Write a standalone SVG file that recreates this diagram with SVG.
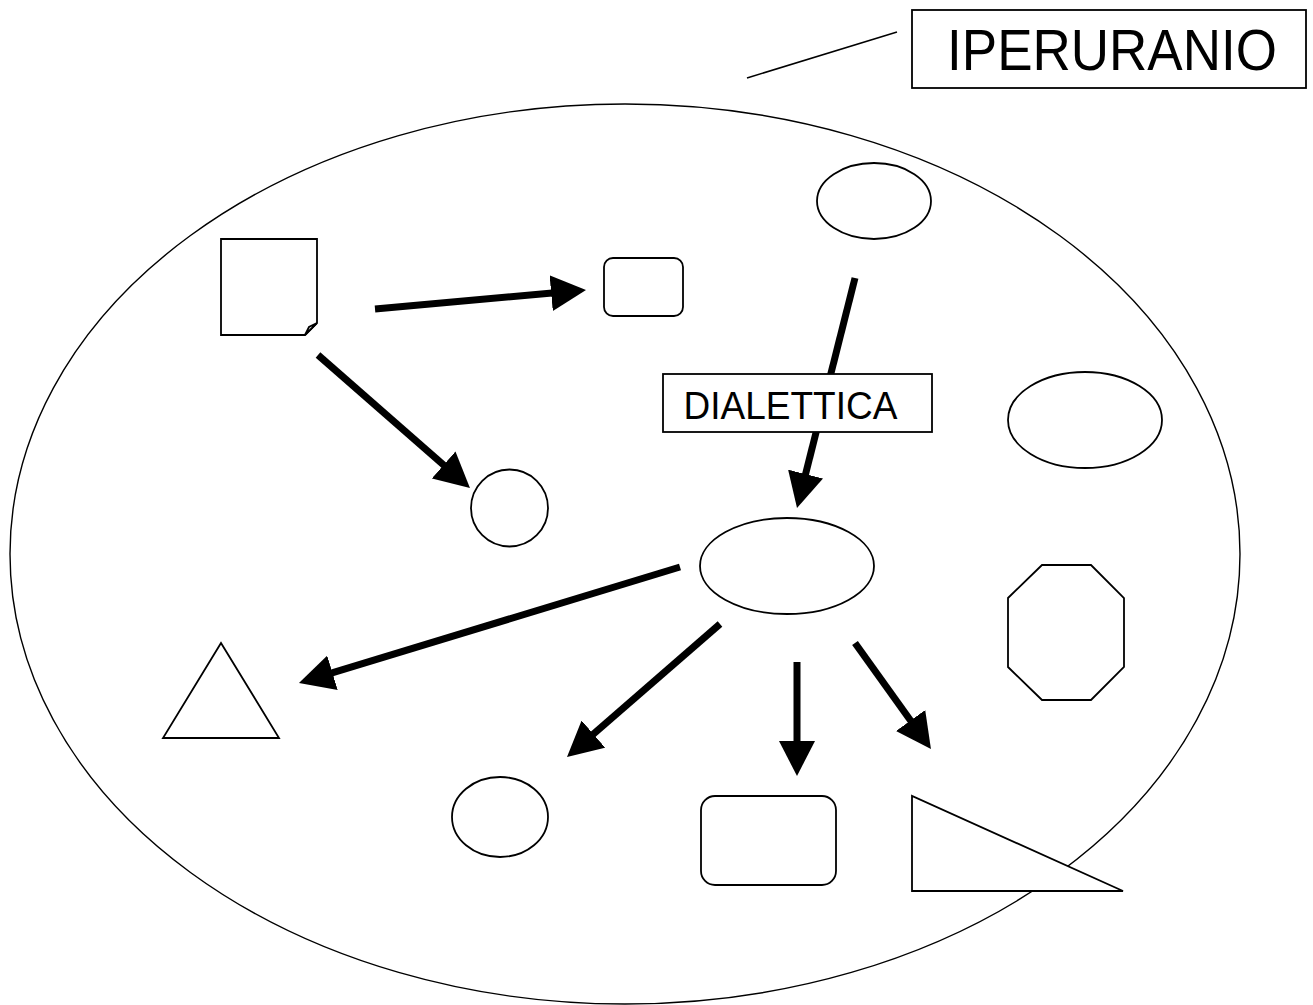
<svg xmlns="http://www.w3.org/2000/svg" width="1313" height="1005" viewBox="0 0 1313 1005">
  <style>
    .shape { fill: #fff; stroke: #000; stroke-width: 1.8; }
    .frame { fill: none; stroke: #000; stroke-width: 1.4; }
    .arrow { stroke: #000; stroke-width: 7; stroke-linecap: butt; fill: none; marker-end: url(#head); }
    .label { font-family: "Liberation Sans", Arial, sans-serif; fill: #000; text-anchor: middle; }
  </style>
  <defs>
    <marker id="head" markerUnits="userSpaceOnUse" viewBox="0 0 35 36" markerWidth="35" markerHeight="36" refX="15" refY="18" orient="auto">
      <path d="M0,0 L35,18 L0,36 Z" fill="#000"/>
    </marker>
  </defs>

  <rect width="1313" height="1005" fill="#fff"/>

  <!-- the world of ideas -->
  <g id="iperuranio-region">
    <ellipse class="frame" cx="625" cy="554" rx="615" ry="450"/>
  </g>

  <g id="connectors">
    <line x1="747" y1="78" x2="897" y2="32" stroke="#000" stroke-width="1.5"/>
    <line class="arrow" x1="375" y1="309" x2="566.1" y2="291.8"/>
    <line class="arrow" x1="318" y1="355" x2="454.9" y2="474.8"/>
    <line class="arrow" x1="855" y1="278" x2="801.9" y2="488.6"/>
    <line class="arrow" x1="680" y1="567" x2="318.1" y2="677.2"/>
    <line class="arrow" x1="720" y1="624" x2="582.1" y2="743.9"/>
    <line class="arrow" x1="797" y1="662" x2="797" y2="756"/>
    <line class="arrow" x1="855" y1="643" x2="919.3" y2="732.7"/>
  </g>

  <g id="label-iperuranio">
    <rect class="shape" x="912" y="10" width="394" height="78"/>
    <text class="label" x="1112" y="70" font-size="53" transform="translate(0,70) scale(1,1.08) translate(0,-70)">IPERURANIO</text>
  </g>

  <g id="note">
    <path class="shape" d="M221,239 H317 V323 L305,335 H221 Z"/>
    <path class="shape" d="M317,323 L309,327 L305,335 Z"/>
  </g>

  <g id="small-box">
    <rect class="shape" x="604" y="258" width="79" height="58" rx="9"/>
  </g>

  <g id="top-ellipse">
    <ellipse class="shape" cx="874" cy="201" rx="57" ry="38"/>
  </g>

  <g id="circle">
    <circle class="shape" cx="509.5" cy="508" r="38.5"/>
  </g>

  <g id="label-dialettica">
    <rect class="shape" x="663" y="374" width="269" height="58"/>
    <text class="label" x="790.5" y="419" font-size="37" transform="translate(0,419) scale(1,1.05) translate(0,-419)">DIALETTICA</text>
  </g>

  <g id="right-ellipse">
    <ellipse class="shape" cx="1085" cy="420" rx="77" ry="48"/>
  </g>

  <g id="central-ellipse">
    <ellipse class="shape" cx="787" cy="566" rx="87" ry="48"/>
  </g>

  <g id="octagon">
    <polygon class="shape" points="1042,565 1091,565 1124,598 1124,667 1091,700 1042,700 1008,667 1008,598"/>
  </g>

  <g id="triangle">
    <polygon class="shape" points="221,643 279,738 163,738"/>
  </g>

  <g id="lower-ellipse">
    <ellipse class="shape" cx="500" cy="817" rx="48" ry="40"/>
  </g>

  <g id="lower-box">
    <rect class="shape" x="701" y="796" width="135" height="89" rx="14"/>
  </g>

  <g id="right-triangle">
    <polygon class="shape" points="912,796 912,891 1123,891"/>
  </g>
</svg>
